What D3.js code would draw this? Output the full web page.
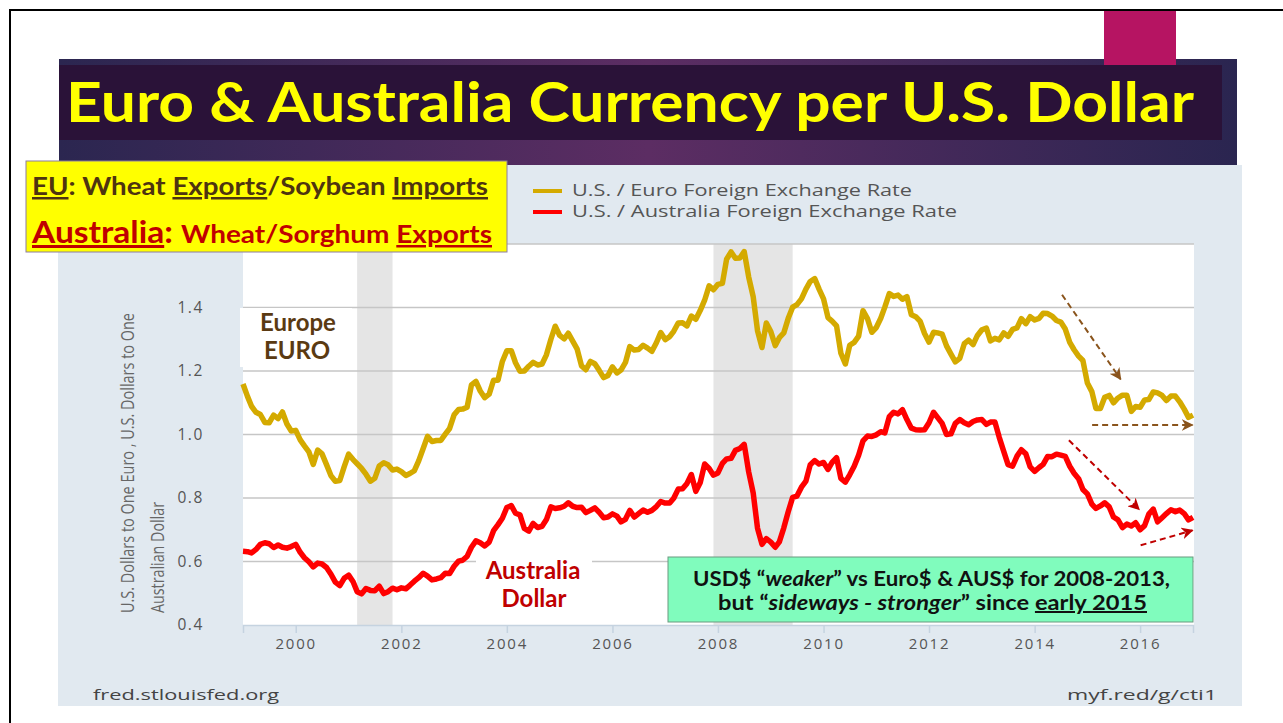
<!DOCTYPE html>
<html lang="en">
<head>
<meta charset="UTF-8">
<title>Euro & Australia Currency per U.S. Dollar</title>
<script src="https://cdn.jsdelivr.net/npm/d3@7"></script>
<style>
    body { margin: 0; background: #fff; }
    svg { display: block; }
</style>
</head>
<body>
<svg id="chart" width="1283" height="723"></svg>

<script>
    // monthly averages, Jan 1999 .. Jan 2017
    const euroRate = [
        1.159, 1.120, 1.089, 1.070, 1.063, 1.038, 1.037, 1.061, 1.050, 1.071, 1.033, 1.011,
        1.013, 0.983, 0.964, 0.945, 0.906, 0.951, 0.939, 0.905, 0.870, 0.853, 0.855, 0.898,
        0.938, 0.921, 0.908, 0.893, 0.875, 0.853, 0.862, 0.901, 0.911, 0.905, 0.888, 0.891,
        0.883, 0.871, 0.877, 0.886, 0.917, 0.956, 0.994, 0.978, 0.981, 0.981, 1.001, 1.019,
        1.062, 1.079, 1.080, 1.086, 1.156, 1.167, 1.137, 1.116, 1.127, 1.171, 1.171, 1.230,
        1.264, 1.264, 1.226, 1.199, 1.200, 1.215, 1.227, 1.219, 1.222, 1.251, 1.300, 1.341,
        1.312, 1.301, 1.319, 1.294, 1.270, 1.216, 1.204, 1.230, 1.223, 1.202, 1.179, 1.186,
        1.213, 1.194, 1.203, 1.227, 1.277, 1.266, 1.268, 1.281, 1.272, 1.262, 1.289, 1.321,
        1.299, 1.308, 1.325, 1.351, 1.352, 1.342, 1.373, 1.363, 1.391, 1.423, 1.468, 1.456,
        1.473, 1.476, 1.552, 1.575, 1.555, 1.556, 1.576, 1.496, 1.434, 1.327, 1.274, 1.351,
        1.324, 1.280, 1.305, 1.320, 1.365, 1.401, 1.409, 1.427, 1.458, 1.482, 1.491, 1.458,
        1.427, 1.368, 1.357, 1.342, 1.256, 1.222, 1.281, 1.290, 1.310, 1.390, 1.365, 1.322,
        1.337, 1.366, 1.401, 1.444, 1.435, 1.439, 1.426, 1.434, 1.377, 1.371, 1.356, 1.318,
        1.291, 1.322, 1.320, 1.316, 1.279, 1.253, 1.229, 1.240, 1.286, 1.297, 1.283, 1.312,
        1.330, 1.335, 1.295, 1.303, 1.298, 1.320, 1.309, 1.331, 1.336, 1.365, 1.349, 1.371,
        1.361, 1.366, 1.382, 1.381, 1.373, 1.359, 1.354, 1.332, 1.290, 1.267, 1.247, 1.233,
        1.162, 1.135, 1.082, 1.082, 1.117, 1.123, 1.100, 1.115, 1.124, 1.124, 1.073, 1.088,
        1.086, 1.109, 1.110, 1.134, 1.131, 1.123, 1.107, 1.121, 1.121, 1.103, 1.080, 1.054,
        1.061
    ];
    const audRate = [
        0.632, 0.631, 0.627, 0.638, 0.654, 0.659, 0.656, 0.644, 0.652, 0.645, 0.642, 0.647,
        0.654, 0.629, 0.612, 0.599, 0.583, 0.595, 0.592, 0.581, 0.560, 0.535, 0.524, 0.547,
        0.557, 0.536, 0.505, 0.498, 0.515, 0.509, 0.508, 0.522, 0.499, 0.505, 0.516, 0.511,
        0.517, 0.514, 0.525, 0.538, 0.549, 0.563, 0.554, 0.542, 0.545, 0.549, 0.563, 0.562,
        0.585, 0.601, 0.604, 0.616, 0.645, 0.665, 0.659, 0.649, 0.661, 0.697, 0.716, 0.736,
        0.770, 0.776, 0.752, 0.747, 0.704, 0.696, 0.720, 0.707, 0.711, 0.732, 0.772, 0.767,
        0.769, 0.774, 0.785, 0.774, 0.770, 0.771, 0.754, 0.761, 0.769, 0.755, 0.738, 0.740,
        0.750, 0.743, 0.725, 0.733, 0.761, 0.740, 0.751, 0.762, 0.755, 0.761, 0.773, 0.789,
        0.784, 0.784, 0.799, 0.828, 0.829, 0.846, 0.874, 0.821, 0.849, 0.907, 0.893, 0.872,
        0.879, 0.909, 0.923, 0.925, 0.950, 0.956, 0.969, 0.882, 0.816, 0.705, 0.654, 0.672,
        0.661, 0.645, 0.662, 0.706, 0.756, 0.802, 0.806, 0.834, 0.853, 0.905, 0.918, 0.907,
        0.912, 0.890, 0.912, 0.927, 0.862, 0.850, 0.873, 0.900, 0.935, 0.980, 0.995, 0.994,
        0.999, 1.009, 1.005, 1.056, 1.070, 1.065, 1.078, 1.047, 1.020, 1.015, 1.014, 1.015,
        1.037, 1.070, 1.053, 1.035, 1.000, 1.002, 1.035, 1.047, 1.037, 1.031, 1.041, 1.046,
        1.047, 1.032, 1.039, 1.039, 0.991, 0.947, 0.905, 0.900, 0.932, 0.952, 0.939, 0.898,
        0.884, 0.896, 0.906, 0.931, 0.930, 0.938, 0.935, 0.931, 0.900, 0.878, 0.861, 0.827,
        0.813, 0.781, 0.767, 0.775, 0.785, 0.772, 0.740, 0.731, 0.707, 0.718, 0.712, 0.722,
        0.700, 0.713, 0.749, 0.765, 0.725, 0.738, 0.751, 0.763, 0.757, 0.762, 0.751, 0.731,
        0.739
    ];
    const months = d3.timeMonth.range(new Date(1999, 0, 1), new Date(2017, 1, 1));

    const yTicks = [0.4, 0.6, 0.8, 1.0, 1.2, 1.4, 1.6];
    const xTickYears = [2000, 2002, 2004, 2006, 2008, 2010, 2012, 2014, 2016];
    const recessions = [[new Date(2001, 2, 1), new Date(2001, 10, 1)], [new Date(2007, 11, 1), new Date(2009, 5, 1)]];
    const seriesNames = ["U.S. / Euro Foreign Exchange Rate", "U.S. / Australia Foreign Exchange Rate"];

    // trend arrows drawn by hand on the slide: [fromYear, fromValue, toYear, toValue]
    const brownArrows = [[2014.52, 1.44, 2015.63, 1.174], [2015.09, 1.03, 2016.99, 1.03]];
    const redArrows = [[2014.65, 0.982, 2015.98, 0.764], [2016.01, 0.651, 2016.99, 0.698]];

    const euroColor = "#d4aa00", audColor = "#ff0000";
    const brown = "#4e3410", darkRed = "#c00000";

    let svg = d3.select("#chart");

    // slide frame
    svg.append("line").attr("x1", 9).attr("x2", 1283).attr("y1", 10).attr("y2", 10)
        .attr("stroke", "#000").attr("stroke-width", 2);
    svg.append("line").attr("x1", 10).attr("x2", 10).attr("y1", 10).attr("y2", 723)
        .attr("stroke", "#000").attr("stroke-width", 2);

    // title band
    let defs = svg.append("defs");
    let grad = defs.append("linearGradient").attr("id", "band");
    grad.append("stop").attr("offset", "0%").attr("stop-color", "#2b2650");
    grad.append("stop").attr("offset", "50%").attr("stop-color", "#5c2d63");
    grad.append("stop").attr("offset", "100%").attr("stop-color", "#2a2550");
    defs.append("marker").attr("id", "headBrown").attr("viewBox", "0 0 10 10")
        .attr("refX", 9).attr("refY", 5).attr("markerWidth", 6).attr("markerHeight", 6)
        .attr("markerUnits", "strokeWidth").attr("orient", "auto")
        .append("path").attr("d", "M0,0 L10,5 L0,10 L3,5 z").attr("fill", "#8a541c");
    defs.append("marker").attr("id", "headRed").attr("viewBox", "0 0 10 10")
        .attr("refX", 9).attr("refY", 5).attr("markerWidth", 6).attr("markerHeight", 6)
        .attr("markerUnits", "strokeWidth").attr("orient", "auto")
        .append("path").attr("d", "M0,0 L10,5 L0,10 L3,5 z").attr("fill", darkRed);

    svg.append("rect").attr("x", 59).attr("y", 59).attr("width", 1178).attr("height", 106)
        .attr("fill", "url(#band)");
    svg.append("rect").attr("x", 59).attr("y", 65).attr("width", 1163).attr("height", 75)
        .attr("fill", "#2a1238");
    svg.append("rect").attr("x", 1104).attr("y", 11).attr("width", 72).attr("height", 54)
        .attr("fill", "#b61462");
    svg.append("text").attr("x", 66).attr("y", 122)
        .attr("textLength", 1128).attr("lengthAdjust", "spacingAndGlyphs")
        .style("font-family", "Lato, 'Open Sans', sans-serif").style("font-weight", 700)
        .style("font-size", "56px").attr("fill", "#ffff00")
        .text("Euro & Australia Currency per U.S. Dollar");

    // FRED graph panel
    svg.append("rect").attr("x", 58).attr("y", 165).attr("width", 1184).attr("height", 541)
        .attr("fill", "#e1e9f0");

    const margin = {left: 243, right: 1194, top: 244, bottom: 625};
    let x = d3.scaleTime()
        .domain([new Date(1999, 0, 1), new Date(2017, 0, 1)])
        .range([margin.left, 1193]);
    let y = d3.scaleLinear().domain([0.4, 1.6]).range([margin.bottom, margin.top]);
    const yearDate = function (yr) {
        let whole = Math.floor(yr);
        let a = new Date(whole, 0, 1), b = new Date(whole + 1, 0, 1);
        return new Date(+a + (yr - whole) * (b - a));
    };

    svg.append("rect").attr("x", margin.left).attr("y", margin.top)
        .attr("width", margin.right - margin.left).attr("height", margin.bottom - margin.top)
        .attr("fill", "#fff");

    // recession bars
    svg.append("g").selectAll("rect").data(recessions).enter().append("rect")
        .attr("x", d => x(d[0])).attr("width", d => x(d[1]) - x(d[0]))
        .attr("y", margin.top).attr("height", margin.bottom - margin.top)
        .attr("fill", "#e5e5e5");

    // grid lines
    svg.append("g").selectAll("line").data(yTicks.slice(1)).enter().append("line")
        .attr("x1", margin.left).attr("x2", margin.right)
        .attr("y1", d => y(d)).attr("y2", d => y(d))
        .attr("stroke", "#c6c6c6").attr("stroke-width", 1.5);

    // axes
    let yAxis = svg.append("g").attr("transform", "translate(" + margin.left + ",0)")
        .call(d3.axisLeft(y).tickValues(yTicks.slice(0, 6)).tickFormat(d3.format(".1f")).tickSize(0).tickPadding(39));
    yAxis.select(".domain").remove();
    yAxis.selectAll("text").style("font-family", "'Open Sans', sans-serif").style("font-size", "15.5px")
        .style("letter-spacing", "1.6px").attr("fill", "#555");

    let xAxis = svg.append("g").attr("transform", "translate(0," + margin.bottom + ")")
        .call(d3.axisBottom(x).tickValues(xTickYears.map(yr => new Date(yr, 0, 1)))
            .tickFormat(d3.timeFormat("%Y")).tickSize(8).tickPadding(5));
    xAxis.select(".domain").attr("stroke", "#c5d3e0").attr("stroke-width", 1.5);
    xAxis.selectAll(".tick line").attr("stroke", "#c5d3e0").attr("stroke-width", 1.5);
    xAxis.selectAll("text").style("font-family", "'Open Sans', sans-serif").style("font-size", "15px")
        .style("letter-spacing", "1.8px").attr("fill", "#555");

    // y axis title
    let yTitle = svg.append("g").style("font-family", "'Open Sans', sans-serif").style("font-size", "19px")
        .attr("fill", "#666");
    yTitle.append("text").attr("transform", "translate(134,613) rotate(-90)")
        .attr("textLength", 300).attr("lengthAdjust", "spacingAndGlyphs")
        .text("U.S. Dollars to One Euro , U.S. Dollars to One");
    yTitle.append("text").attr("transform", "translate(164,613) rotate(-90)")
        .attr("textLength", 111).attr("lengthAdjust", "spacingAndGlyphs")
        .text("Australian Dollar");

    // white label boxes on the plot
    svg.append("rect").attr("x", 240).attr("y", 308).attr("width", 112).attr("height", 59).attr("fill", "#fff");
    svg.append("rect").attr("x", 476).attr("y", 556).attr("width", 116).attr("height", 60).attr("fill", "#fff");

    // lines
    let line = d3.line().x((d, i) => x(months[i])).y(d => y(d)).curve(d3.curveLinear);
    svg.append("path").datum(euroRate).attr("d", line).attr("fill", "none")
        .attr("stroke", euroColor).attr("stroke-width", 5.5).attr("stroke-linejoin", "round");
    svg.append("path").datum(audRate).attr("d", line).attr("fill", "none")
        .attr("stroke", audColor).attr("stroke-width", 5.5).attr("stroke-linejoin", "round");

    // legend
    let legend = svg.append("g");
    [euroColor, audColor].forEach(function (c, i) {
        legend.append("line").attr("x1", 533).attr("x2", 562)
            .attr("y1", 191 + i * 21).attr("y2", 191 + i * 21)
            .attr("stroke", c).attr("stroke-width", 4);
        legend.append("text").attr("x", 572).attr("y", 196 + i * 21)
            .attr("textLength", i === 0 ? 340 : 385).attr("lengthAdjust", "spacingAndGlyphs")
            .style("font-family", "'Open Sans', sans-serif").style("font-size", "15.5px")
            .attr("fill", "#555").text(seriesNames[i]);
    });

    // footer
    svg.append("text").attr("x", 93).attr("y", 700)
        .attr("textLength", 186).attr("lengthAdjust", "spacingAndGlyphs")
        .style("font-family", "'Open Sans', sans-serif").style("font-size", "15px").attr("fill", "#444")
        .text("fred.stlouisfed.org");
    svg.append("text").attr("x", 1067).attr("y", 700)
        .attr("textLength", 150).attr("lengthAdjust", "spacingAndGlyphs")
        .style("font-family", "'Open Sans', sans-serif").style("font-size", "15px").attr("fill", "#444")
        .text("myf.red/g/cti1");

    // hand drawn trend arrows
    function drawArrows(list, color, marker) {
        svg.append("g").selectAll("line").data(list).enter().append("line")
            .attr("x1", d => x(yearDate(d[0]))).attr("y1", d => y(d[1]))
            .attr("x2", d => x(yearDate(d[2]))).attr("y2", d => y(d[3]))
            .attr("stroke", color).attr("stroke-width", 2).attr("stroke-dasharray", "6,4")
            .attr("marker-end", "url(#" + marker + ")");
    }
    drawArrows(brownArrows, "#8a541c", "headBrown");
    drawArrows(redArrows, darkRed, "headRed");

    // series labels inside the plot
    let lab = svg.append("g").style("font-family", "Lato, 'Open Sans', sans-serif").style("font-weight", 700)
        .style("font-size", "24px").attr("text-anchor", "middle");
    lab.append("text").attr("x", 298).attr("y", 331).attr("fill", "#5a3a12").text("Europe");
    lab.append("text").attr("x", 297).attr("y", 359).attr("fill", "#5a3a12").text("EURO");
    lab.append("text").attr("x", 533).attr("y", 579).attr("fill", darkRed).text("Australia");
    lab.append("text").attr("x", 534).attr("y", 607).attr("fill", darkRed).text("Dollar");

    // yellow commodity box
    svg.append("rect").attr("x", 26).attr("y", 161).attr("width", 481).attr("height", 91)
        .attr("fill", "#ffff00").attr("stroke", "#8c7ca0").attr("stroke-width", 1);
    let t1 = svg.append("text").attr("x", 32).attr("y", 195)
        .attr("textLength", 456).attr("lengthAdjust", "spacingAndGlyphs")
        .style("font-family", "Lato, 'Open Sans', sans-serif").style("font-weight", 700)
        .style("font-size", "25px").attr("fill", brown);
    t1.append("tspan").style("text-decoration", "underline").text("EU");
    t1.append("tspan").text(": Wheat ");
    t1.append("tspan").style("text-decoration", "underline").text("Exports");
    t1.append("tspan").text("/Soybean ");
    t1.append("tspan").style("text-decoration", "underline").text("Imports");

    let t2 = svg.append("text").attr("x", 32).attr("y", 243)
        .attr("textLength", 460).attr("lengthAdjust", "spacingAndGlyphs")
        .style("font-family", "Lato, 'Open Sans', sans-serif").style("font-weight", 700)
        .style("font-size", "25px").attr("fill", darkRed);
    t2.append("tspan").style("text-decoration", "underline").style("font-size", "30px").text("Australia");
    t2.append("tspan").style("font-size", "30px").text(": ");
    t2.append("tspan").text("Wheat/Sorghum ");
    t2.append("tspan").style("text-decoration", "underline").text("Exports");

    // green comment box
    svg.append("rect").attr("x", 668).attr("y", 557).attr("width", 525).attr("height", 65)
        .attr("fill", "#80fcbd").attr("stroke", "#6a9a80").attr("stroke-width", 1);
    let g1 = svg.append("text").attr("x", 693).attr("y", 586)
        .attr("textLength", 477).attr("lengthAdjust", "spacingAndGlyphs")
        .style("font-family", "Lato, 'Open Sans', sans-serif").style("font-weight", 700)
        .style("font-size", "20px").attr("fill", "#111");
    g1.append("tspan").text("USD$ \u201C");
    g1.append("tspan").style("font-style", "italic").text("weaker");
    g1.append("tspan").text("\u201D vs Euro$ & AUS$ for 2008-2013,");
    let g2 = svg.append("text").attr("x", 718).attr("y", 610)
        .attr("textLength", 429).attr("lengthAdjust", "spacingAndGlyphs")
        .style("font-family", "Lato, 'Open Sans', sans-serif").style("font-weight", 700)
        .style("font-size", "20px").attr("fill", "#111");
    g2.append("tspan").text("but \u201C");
    g2.append("tspan").style("font-style", "italic").text("sideways - stronger");
    g2.append("tspan").text("\u201D since ");
    g2.append("tspan").style("text-decoration", "underline").text("early 2015");
</script>
</body>
</html>
